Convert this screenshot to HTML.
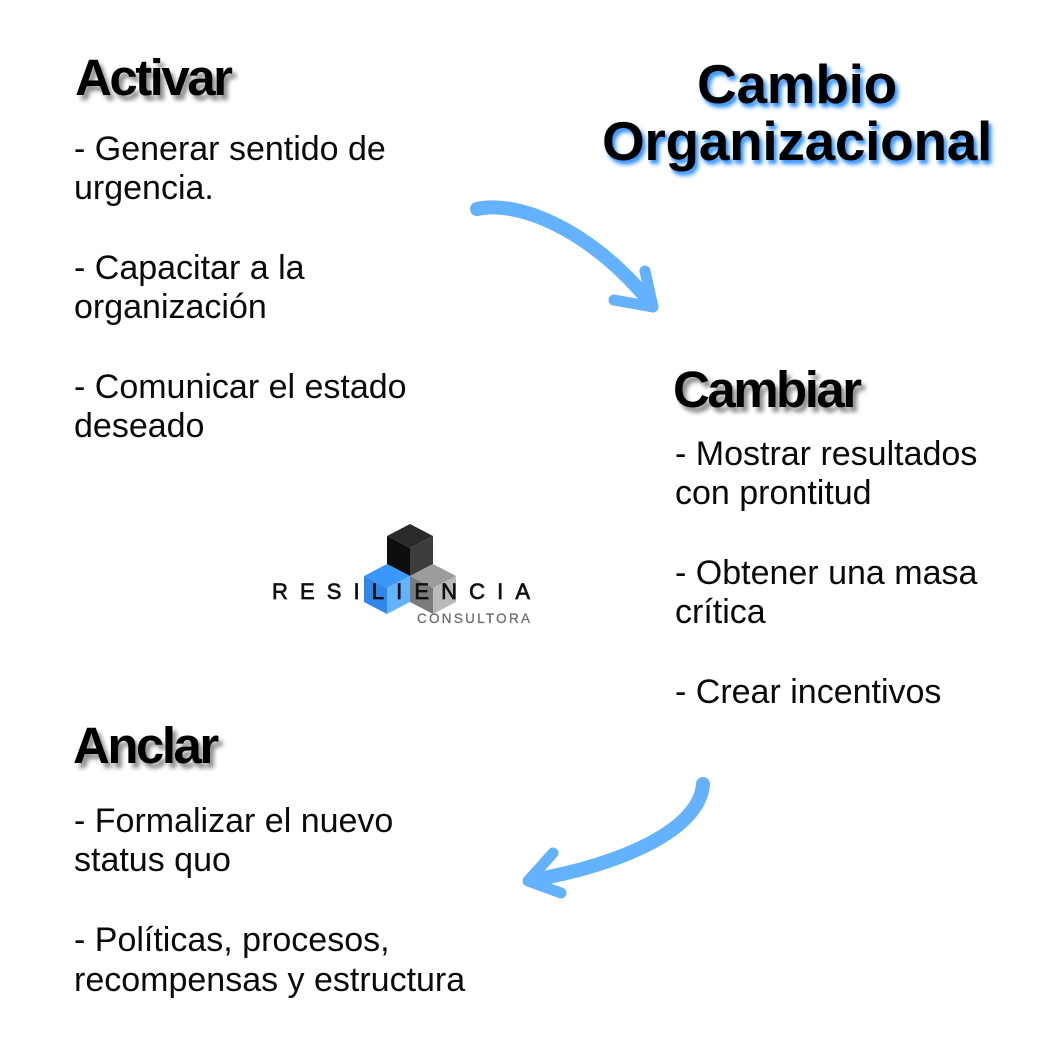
<!DOCTYPE html>
<html>
<head>
<meta charset="utf-8">
<style>
  html, body { margin:0; padding:0; background:#ffffff; }
  body { width:1050px; height:1050px; position:relative; overflow:hidden; }
  .t { position:absolute; white-space:nowrap; font-family:"Liberation Sans", sans-serif; color:#0a0a0a; }
  .b { font-size:34px; line-height:40px; letter-spacing:0px; }
  .h { font-size:51px; line-height:51px; font-weight:bold; letter-spacing:-2.5px; color:#000;
       text-shadow: 4px 5px 4px rgba(0,0,0,0.45); }
  .title { font-size:55px; line-height:55px; font-weight:bold; letter-spacing:-0.3px; color:#000;
       text-shadow: 3px 4px 5px rgba(50,145,255,0.95), 2px 3px 2px rgba(80,160,255,0.6);
       width:400px; left:597px; text-align:center; }
  svg { position:absolute; left:0; top:0; }
</style>
</head>
<body>
<svg width="1050" height="1050" viewBox="0 0 1050 1050">
  <!-- arrow 1 -->
  <path d="M 477 209 C 520 200, 590 230, 650 302" fill="none" stroke="#64b1fd" stroke-width="14" stroke-linecap="round"/>
  <polyline points="645,271 653,307 614,300" fill="none" stroke="#64b1fd" stroke-width="11" stroke-linejoin="round" stroke-linecap="round"/>
  <!-- arrow 2 -->
  <path d="M 703 784 C 700 830, 620 865, 532 880" fill="none" stroke="#64b1fd" stroke-width="14" stroke-linecap="round"/>
  <polyline points="553,853 528,881 561,893" fill="none" stroke="#64b1fd" stroke-width="11" stroke-linejoin="round" stroke-linecap="round"/>

  <!-- logo cubes -->
  <polygon points="410,524 433,536 410,548 387,536" fill="#2b2b2b"/>
  <polygon points="387,536 410,548 410,576 387,564" fill="#0e0e0e"/>
  <polygon points="410,548 433,536 433,564 410,576" fill="#3c3c3c"/>
  <polygon points="387,564 410,576 387,588 364,576" fill="#3a98fb"/>
  <polygon points="364,576 387,588 387,614 364,602" fill="#2f87ea"/>
  <polygon points="387,588 410,576 410,602 387,614" fill="#64b3ff"/>
  <polygon points="433,564 456,576 433,588 410,576" fill="#9c9c9c"/>
  <polygon points="410,576 433,588 433,614 410,602" fill="#7b7b7b"/>
  <polygon points="433,588 456,576 456,602 433,614" fill="#bababa"/>

  <text x="272" y="599" font-family="Liberation Sans, sans-serif" font-size="22" fill="#111" stroke="#111" stroke-width="0.7" textLength="258" lengthAdjust="spacing">RESILIENCIA</text>
  <text x="417" y="623" font-family="Liberation Sans, sans-serif" font-size="13.5" fill="#6e6e6e" stroke="#6e6e6e" stroke-width="0.3" textLength="113" lengthAdjust="spacing">CONSULTORA</text>
</svg>

<!-- Title -->
<div class="t title" style="top:57px;">Cambio</div>
<div class="t title" style="top:114px;">Organizacional</div>

<!-- Activar -->
<div class="t h" style="left:75px; top:52px;">Activar</div>
<div class="t b" style="left:74px; top:129px;">- Generar sentido de</div>
<div class="t b" style="left:74px; top:168px;">urgencia.</div>
<div class="t b" style="left:74px; top:248px;">- Capacitar a la</div>
<div class="t b" style="left:74px; top:287px;">organización</div>
<div class="t b" style="left:74px; top:367px;">- Comunicar el estado</div>
<div class="t b" style="left:74px; top:406px;">deseado</div>

<!-- Cambiar -->
<div class="t h" style="left:673px; top:364px;">Cambiar</div>
<div class="t b" style="left:675px; top:434px;">- Mostrar resultados</div>
<div class="t b" style="left:675px; top:473px;">con prontitud</div>
<div class="t b" style="left:675px; top:553px;">- Obtener una masa</div>
<div class="t b" style="left:675px; top:592px;">crítica</div>
<div class="t b" style="left:675px; top:672px;">- Crear incentivos</div>

<!-- Anclar -->
<div class="t h" style="left:73px; top:720px;">Anclar</div>
<div class="t b" style="left:74px; top:801px;">- Formalizar el nuevo</div>
<div class="t b" style="left:74px; top:840px;">status quo</div>
<div class="t b" style="left:74px; top:920px;">- Políticas, procesos,</div>
<div class="t b" style="left:74px; top:960px;">recompensas y estructura</div>
</body>
</html>
